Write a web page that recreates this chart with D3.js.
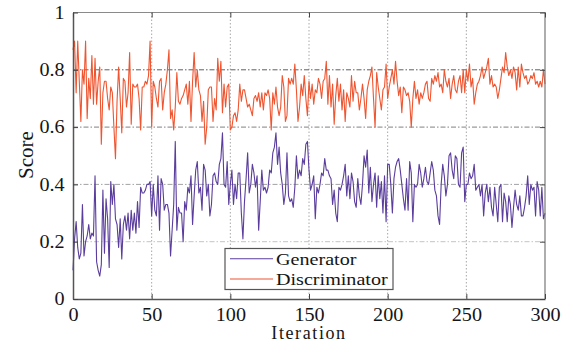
<!DOCTYPE html>
<html><head><meta charset="utf-8">
<script src="https://cdn.jsdelivr.net/npm/d3@7"></script>
<style>
body{margin:0;background:#fff}
svg{display:block}
</style>
</head><body>
<svg id="chart" width="575" height="344"></svg>
<script>
// Generator score per iteration (0..300)
const generator = [
 0.10,0.21,0.27,0.18,0.14,0.16,0.33,0.15,0.20,0.22, 0.26,0.21,0.23,0.22,0.43,0.13,0.10,0.08,0.12,0.38,
 0.16,0.35,0.28,0.11,0.41,0.33,0.40,0.28,0.26,0.18, 0.28,0.14,0.26,0.29,0.24,0.30,0.21,0.31,0.24,0.30,
 0.23,0.34,0.25,0.39,0.37,0.37,0.38,0.40,0.40,0.41, 0.29,
 0.40,0.31,0.29,0.43,0.24,0.42,0.40,0.31,0.33, 0.33,0.30,0.15,0.24,0.33,0.55,0.24,0.32,0.30,0.30,
 0.20,0.34,0.31,0.39,0.37,0.43,0.26,0.36,0.45,0.48, 0.37,0.39,0.31,0.47,0.45,0.36,0.40,0.29,0.33,0.43,
 0.44,0.41,0.40,0.47,0.49,0.58,0.40,0.39,0.48,0.33, 0.40,
 0.45,0.33,0.40,0.35,0.44,0.44,0.30,0.21,0.34, 0.42,0.51,0.37,0.40,0.47,0.44,0.39,0.43,0.24,0.34,
 0.45,0.38,0.39,0.37,0.39,0.45,0.44,0.51,0.53,0.58, 0.47,0.53,0.44,0.40,0.33,0.37,0.51,0.36,0.34,0.35,
 0.32,0.39,0.50,0.42,0.45,0.43,0.49,0.47,0.54,0.55, 0.45,
 0.38,0.40,0.43,0.28,0.39,0.37,0.40,0.44,0.43, 0.49,0.45,0.45,0.43,0.42,0.33,0.38,0.30,0.27,0.39,
 0.38,0.40,0.43,0.47,0.36,0.43,0.35,0.44,0.41,0.34, 0.32,0.42,0.36,0.33,0.40,0.50,0.46,0.52,0.37,0.46,
 0.34,0.40,0.44,0.32,0.43,0.35,0.41,0.30,0.43,0.27, 0.47,
 0.47,0.40,0.30,0.42,0.46,0.48,0.49,0.45,0.40, 0.35,0.31,0.42,0.31,0.48,0.44,0.27,0.40,0.39,0.40,
 0.47,0.44,0.39,0.42,0.46,0.41,0.40,0.44,0.48,0.45, 0.38,0.36,0.29,0.26,0.40,0.47,0.43,0.36,0.40,0.50,
 0.51,0.45,0.42,0.50,0.49,0.40,0.39,0.51,0.53,0.34, 0.40,
 0.40,0.44,0.42,0.43,0.47,0.38,0.39,0.40,0.36, 0.40,0.29,0.37,0.40,0.34,0.39,0.32,0.29,0.39,0.33,
 0.27,0.39,0.40,0.27,0.37,0.34,0.27,0.36,0.33,0.25, 0.32,0.38,0.33,0.31,0.36,0.29,0.29,0.32,0.36,0.43,
 0.33,0.40,0.38,0.39,0.29,0.41,0.38,0.29,0.39,0.28, 0.30
];
// Discriminator score per iteration (0..300)
const discriminator = [
 0.87,0.90,0.72,0.90,0.76,0.62,0.80,0.75,0.90,0.63, 0.77,0.70,0.85,0.68,0.84,0.68,0.76,0.81,0.54,0.72,
 0.76,0.76,0.70,0.66,0.74,0.72,0.60,0.49,0.69,0.81, 0.70,0.58,0.77,0.76,0.67,0.72,0.86,0.61,0.75,0.74,
 0.74,0.75,0.70,0.59,0.74,0.74,0.76,0.75,0.78,0.90, 0.60,
 0.76,0.74,0.70,0.67,0.76,0.77,0.66,0.72,0.75, 0.80,0.87,0.63,0.66,0.59,0.67,0.79,0.69,0.68,0.70,
 0.71,0.73,0.75,0.68,0.76,0.62,0.76,0.86,0.74,0.80, 0.73,0.71,0.62,0.69,0.54,0.60,0.73,0.74,0.74,0.62,
 0.70,0.66,0.84,0.76,0.83,0.65,0.75,0.67,0.74,0.75, 0.59,
 0.60,0.64,0.65,0.62,0.66,0.75,0.69,0.73,0.73, 0.70,0.67,0.68,0.66,0.64,0.70,0.71,0.69,0.72,0.67,
 0.72,0.66,0.72,0.71,0.73,0.70,0.59,0.72,0.68,0.74, 0.67,0.64,0.67,0.78,0.74,0.62,0.64,0.77,0.75,0.77,
 0.75,0.82,0.73,0.62,0.67,0.75,0.71,0.78,0.70,0.64, 0.76,
 0.70,0.75,0.68,0.73,0.72,0.77,0.75,0.70,0.76, 0.77,0.83,0.68,0.78,0.67,0.75,0.61,0.71,0.77,0.69,
 0.75,0.66,0.73,0.62,0.72,0.70,0.67,0.78,0.69,0.76, 0.72,0.72,0.66,0.70,0.75,0.70,0.63,0.73,0.76,0.78,
 0.81,0.70,0.60,0.79,0.74,0.70,0.66,0.73,0.74,0.82, 0.70,
 0.74,0.77,0.80,0.75,0.83,0.76,0.71,0.74,0.65, 0.74,0.73,0.71,0.72,0.69,0.60,0.70,0.76,0.70,0.73,
 0.68,0.72,0.70,0.72,0.75,0.76,0.70,0.69,0.77,0.75, 0.78,0.76,0.79,0.74,0.75,0.72,0.80,0.76,0.74,0.77,
 0.70,0.75,0.78,0.73,0.72,0.76,0.78,0.72,0.80,0.72, 0.80,
 0.76,0.82,0.74,0.77,0.68,0.72,0.75,0.76,0.78, 0.81,0.77,0.79,0.81,0.84,0.75,0.78,0.74,0.75,0.74,
 0.70,0.73,0.77,0.81,0.79,0.86,0.81,0.78,0.80,0.77, 0.81,0.79,0.73,0.81,0.74,0.82,0.79,0.77,0.78,0.75,
 0.76,0.78,0.77,0.79,0.75,0.76,0.74,0.76,0.74,0.80, 0.75
];
const xTicks = [0, 50, 100, 150, 200, 250, 300];
const yTicks = [0, 0.2, 0.4, 0.6, 0.8, 1];
const yTickLabels = ["0", "0.2", "0.4", "0.6", "0.8", "1"];
const seriesNames = ["Generator", "Discriminator"];
const xTitle = "Iteration";
const yTitle = "Score";

const FONT = "'Liberation Serif', 'Times New Roman', Times, serif";
const colors = {Generator: "#5a3d9c", Discriminator: "#ef5530"};
const box = {l: 73, r: 545, t: 12.5, b: 299};
const svg = d3.select("#chart").attr("font-family", FONT);

const x = d3.scaleLinear().domain([0, 300]).range([box.l, box.r]);
const y = d3.scaleLinear().domain([0, 1]).range([box.b, box.t]);

// grid
const g = svg.append("g");
g.selectAll(".vg").data(xTicks.filter(d => d > 0 && d < 300)).join("line")
  .attr("x1", d => x(d)).attr("x2", d => x(d))
  .attr("y1", box.t).attr("y2", box.b)
  .attr("stroke", "#a8a8a8").attr("stroke-width", 1).attr("stroke-dasharray", "1.5,2");
const gridCol = d3.scaleLinear().domain([0.2, 0.8]).range(["#c4c4c4", "#606060"]);
g.selectAll(".hg").data(yTicks.filter(d => d > 0 && d < 1)).join("line")
  .attr("x1", box.l).attr("x2", box.r)
  .attr("y1", d => y(d)).attr("y2", d => y(d))
  .attr("stroke", d => gridCol(d)).attr("stroke-width", 1).attr("stroke-dasharray", "5,2,1.5,2");

// lines
const series = [{name: "Generator", values: generator}, {name: "Discriminator", values: discriminator}];
const line = d3.line().x((d, i) => x(i)).y(d => y(d));
svg.selectAll(".series").data(series).join("path")
  .attr("fill", "none")
  .attr("stroke", d => colors[d.name])
  .attr("stroke-width", 1.1)
  .attr("stroke-linejoin", "round")
  .attr("d", d => line(d.values));

// frame
svg.append("line").attr("x1", box.l).attr("x2", box.r).attr("y1", box.t).attr("y2", box.t).attr("stroke", "#8a8a8a").attr("stroke-width", 1);
svg.append("line").attr("x1", box.r).attr("x2", box.r).attr("y1", box.t).attr("y2", box.b).attr("stroke", "#777").attr("stroke-width", 1.2);

// axes
const xAxis = d3.axisBottom(x).tickValues(xTicks).tickSize(-5).tickPadding(9).tickSizeOuter(0);
const ax = svg.append("g").attr("transform", `translate(0,${box.b})`).call(xAxis);
ax.attr("font-family", FONT).attr("font-size", 18);
ax.select(".domain").attr("stroke", "#555").attr("stroke-width", 1.5);
ax.selectAll(".tick line").attr("stroke", "#444");
ax.selectAll("text").attr("fill", "#151515").attr("transform", "scale(1.12,1)");

const yAxis = d3.axisLeft(y).tickValues(yTicks).tickFormat((d, i) => yTickLabels[i]).tickSize(-5).tickPadding(7.5).tickSizeOuter(0);
const ay = svg.append("g").attr("transform", `translate(${box.l},0)`).call(yAxis);
ay.attr("font-family", FONT).attr("font-size", 18);
ay.select(".domain").attr("stroke", "#555").attr("stroke-width", 1.5);
ay.selectAll(".tick line").attr("stroke", "#444");
ay.selectAll("text").attr("fill", "#151515").attr("transform", "scale(1.12,1)");

// top and right inward ticks
svg.append("g").attr("transform", `translate(0,${box.t})`)
  .call(d3.axisTop(x).tickValues(xTicks).tickSize(-5).tickFormat("").tickSizeOuter(0))
  .call(s => { s.select(".domain").remove(); s.selectAll("line").attr("stroke", "#444"); });
svg.append("g").attr("transform", `translate(${box.r},0)`)
  .call(d3.axisRight(y).tickValues(yTicks).tickSize(-5).tickFormat("").tickSizeOuter(0))
  .call(s => { s.select(".domain").remove(); s.selectAll("line").attr("stroke", "#444"); });

// titles
svg.append("text").attr("x", (box.l + box.r) / 2).attr("y", 339)
  .attr("text-anchor", "middle").attr("font-size", 18).attr("letter-spacing", 1.6)
  .attr("fill", "#151515").text(xTitle);
svg.append("text").attr("transform", "translate(33,155) rotate(-90)")
  .attr("text-anchor", "middle").attr("font-size", 21).attr("fill", "#151515").text(yTitle);

// legend
const lg = svg.append("g");
lg.append("rect").attr("x", 225).attr("y", 248.5).attr("width", 168).attr("height", 41)
  .attr("fill", "#fff").attr("stroke", "#555").attr("stroke-width", 1.2);
seriesNames.forEach((n, i) => {
  const yy = 258.8 + i * 20.2;
  lg.append("line").attr("x1", 230).attr("x2", 273).attr("y1", yy).attr("y2", yy)
    .attr("stroke", colors[n]).attr("stroke-width", 1.1);
  lg.append("text").attr("transform", `translate(276,${yy + 6})scale(1.15,1)`)
    .attr("font-size", 17.5).attr("fill", "#151515").text(n);
});

svg.selectAll("text").style("font-family", FONT);
</script>
</body></html>
